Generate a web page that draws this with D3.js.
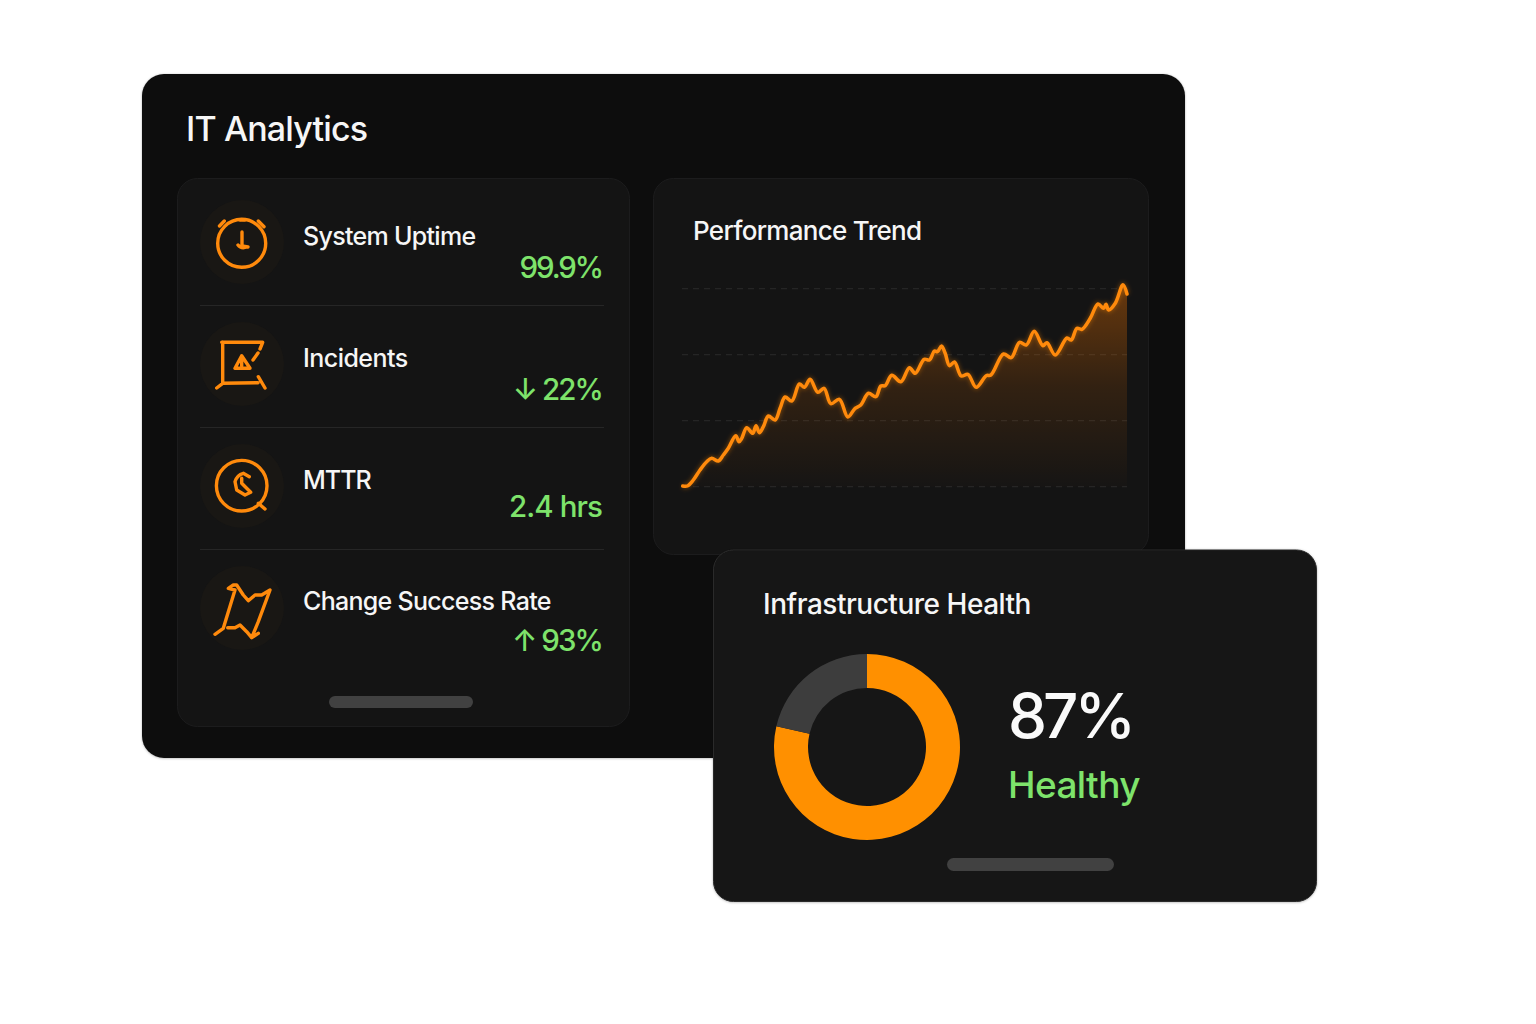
<!DOCTYPE html>
<html><head><meta charset="utf-8">
<script src="https://cdn.jsdelivr.net/npm/d3@7"></script>
<style>html,body{margin:0;padding:0;background:#fff}svg{display:block}text{font-family:Inter,"Noto Sans",sans-serif}</style>
</head><body><div id="c"></div>
<script>
const dashboardTitle = "IT Analytics";
const kpiLabels = ["System Uptime","Incidents","MTTR","Change Success Rate"];
const kpiValues = ["99.9%","↓ 22%","2.4 hrs","↑ 93%"];
const trendTitle = "Performance Trend";
const healthTitle = "Infrastructure Health";
const healthValue = 87;
const donutShares = [78.6,21.4];
const healthLabel = "Healthy";
const gridValues = [0,66,132,198];
const trendT = [0,4.6,10.6,17.3,24,29,35.6,40.6,45.6,53,56.3,59,64,70,73.3,76.6,80.6,85.6,92.3,97.3,102.3,109,116.6,121.6,127.3,135,141.3,148,156.6,165,172.3,178,185.6,193,198,202.3,209,218,226.6,232.3,241.3,246.6,251.6,254.6,258.6,262.3,266.6,271.6,278.3,285,293.3,303.3,308,320.6,328.3,336.6,343.3,351.3,360,364,372.3,384,388.3,394,399,407.3,415,420.6,423,425.6,432.3,440,444];
const trendV = [0.7,0.7,6.7,16.7,25,28.4,25.7,31.7,38.4,51,45,48.4,59,53.4,61,54,60,70.7,66.7,78.4,89.7,85.7,102.7,99.4,107.4,94.4,98.4,83,87.4,69.7,78.4,81.7,93.4,90,100.7,101,111.4,105,119,113.4,127.4,126.7,135.7,135,140.7,133.4,121,124.7,110.7,112.4,99.4,111,111.7,132.7,129,144.4,141.7,155.4,141,144,131.7,148.7,146.7,158.4,157.4,168.4,182.7,178.4,182.4,176.7,183.4,202,192.7];

const W=1536,H=1024,ORANGE="#ff8a0c",GREEN="#7ee36b",WHITE="#f6f6f6";
const svg=d3.select("#c").append("svg").attr("width",W).attr("height",H);
const defs=svg.append("defs");
const f=defs.append("filter").attr("id","sh").attr("x","-10%").attr("y","-10%").attr("width","120%").attr("height","120%");
f.append("feDropShadow").attr("dx",0).attr("dy",.5).attr("stdDeviation",.8).attr("flood-color","#000").attr("flood-opacity",.3);
const g=defs.append("linearGradient").attr("id","area").attr("x1",0).attr("x2",0).attr("y1",0).attr("y2",1);
[[0,.36],[.5,.13],[1,.01]].forEach(s=>g.append("stop").attr("offset",s[0]).attr("stop-color","#ff7a00").attr("stop-opacity",s[1]));
const blur=defs.append("filter").attr("id","glow").attr("x","-5%").attr("y","-5%").attr("width","110%").attr("height","110%");
blur.append("feGaussianBlur").attr("stdDeviation",2);

function rect(x,y,w,h,r,fill,stroke){return svg.append("rect").attr("x",x).attr("y",y).attr("width",w).attr("height",h).attr("rx",r).attr("fill",fill).attr("stroke",stroke||"none");}
function label(t,x,y,s,fill,anchor,ls){return svg.append("text").attr("x",x).attr("y",y).attr("font-size",s).attr("fill",fill).attr("text-anchor",anchor||"start").attr("font-weight",500).attr("letter-spacing",ls||0).text(t);}

rect(142,74,1043,684,22,"#111111").attr("filter","url(#sh)");
label(dashboardTitle,186,141,34,WHITE,"start",-.85);
rect(177.5,178.5,452,548,20,"#141414","#1c1c1d");
rect(653.5,178.5,495,376,20,"#141414","#1c1c1d");

// KPI rows
const rowTop=[242,364,486,608], labelY=[245,367,489,610], valueY=[278,400,517,651];
const labelLs=[-.7,-.55,-1,-.7], valueLs=[-2.1,-1.9,-.9,-1.9];
[305.5,427.5,549.5].forEach(y=>svg.append("line").attr("x1",200).attr("x2",604).attr("y1",y).attr("y2",y).attr("stroke","#262626"));
rowTop.forEach(cy=>svg.append("circle").attr("cx",242).attr("cy",cy).attr("r",42).attr("fill","#191714"));
kpiLabels.forEach((t,i)=>label(t,303,labelY[i],25,WHITE,"start",labelLs[i]));
kpiValues.forEach((t,i)=>label(t,602,valueY[i],29.5,GREEN,"end",valueLs[i]));

// icons
const ic=svg.append("g").attr("fill","none").attr("stroke",ORANGE).attr("stroke-width",3.4).attr("stroke-linecap","round").attr("stroke-linejoin","round");
ic.append("circle").attr("cx",241.7).attr("cy",243.3).attr("r",24);
ic.append("path").attr("d","M242 232V246L248 247M238 245Q241 249 247 247M219.5 226L224.3 221M258.3 221L264 226.7M240 220H245");
ic.append("path").attr("d","M221.7 342.3H262.7L260 349M258 353L253 360M222.7 342V383M216.7 388L222.7 383.3L258 382.7M258.3 376.7L265 388M241.7 355.7L235 368.3H250ZM241.7 360V366");
ic.append("circle").attr("cx",241.7).attr("cy",485.7).attr("r",25.3);
ic.append("path").attr("d","M258.3 503.3L265 509M249.3 476.7L243.3 473.3Q237 475 235 481.7L236.7 490L245 495L250.7 492.3L241.7 483.3V478.3");
ic.append("path").attr("d","M215 634.3L223.3 628.3L235 590L228.3 588.3L233.3 585L236.7 585L243.3 595L248.3 600.7L255 595H261.7L270 590L258.3 621.7L251.7 637.7L258.3 633.3M251.7 637.7L246.7 631.7L240 625L235 627.7H227.7");

// trend
const x=d3.scaleLinear().domain([0,444]).range([682.7,1127]);
const y=d3.scaleLinear().domain([0,198]).range([486.7,288.7]);
svg.append("g").selectAll("line").data(gridValues).join("line").attr("x1",682).attr("x2",1127).attr("y1",d=>y(d)).attr("y2",d=>y(d)).attr("stroke","#2a2a2a").attr("stroke-dasharray","6 5");
const pts=trendT.map((t,i)=>[t,trendV[i]]);
const curve=d3.curveCatmullRom.alpha(.5);
const lineGen=d3.line().x(d=>x(d[0])).y(d=>y(d[1])).curve(curve);
svg.append("path").datum(pts).attr("fill","url(#area)").attr("d",d3.area().x(d=>x(d[0])).y0(y(0)).y1(d=>y(d[1])).curve(curve));
svg.append("path").datum(pts).attr("fill","none").attr("stroke",ORANGE).attr("stroke-opacity",.35).attr("stroke-width",5).attr("filter","url(#glow)").attr("d",lineGen);
svg.append("path").datum(pts).attr("fill","none").attr("stroke",ORANGE).attr("stroke-width",3.5).attr("stroke-linejoin","round").attr("stroke-linecap","round").attr("d",lineGen);
label(trendTitle,693,240,26,WHITE,"start",-.7);

// health card
rect(713.5,550,603,351.5,20,"#131313","#2c2c2c").attr("filter","url(#sh)");
label(healthTitle,763,614,28,WHITE,"start",-.48);
const pie=d3.pie().sort(null)(donutShares);
const arc=d3.arc().innerRadius(59).outerRadius(93);
svg.append("g").attr("transform","translate(867,747)").selectAll("path").data(pie).join("path").attr("d",arc).attr("fill",(d,i)=>i?"#3d3d3d":"#ff9000");
label(healthValue+"%",1008,738,62,"#fafafa","start",-4);
label(healthLabel,1008,798,37,GREEN,"start",-.6);

// scroll pills
rect(329,696,144,12,6,"#414141");
rect(947,858,167,13,6.5,"#414141");
</script></body></html>
